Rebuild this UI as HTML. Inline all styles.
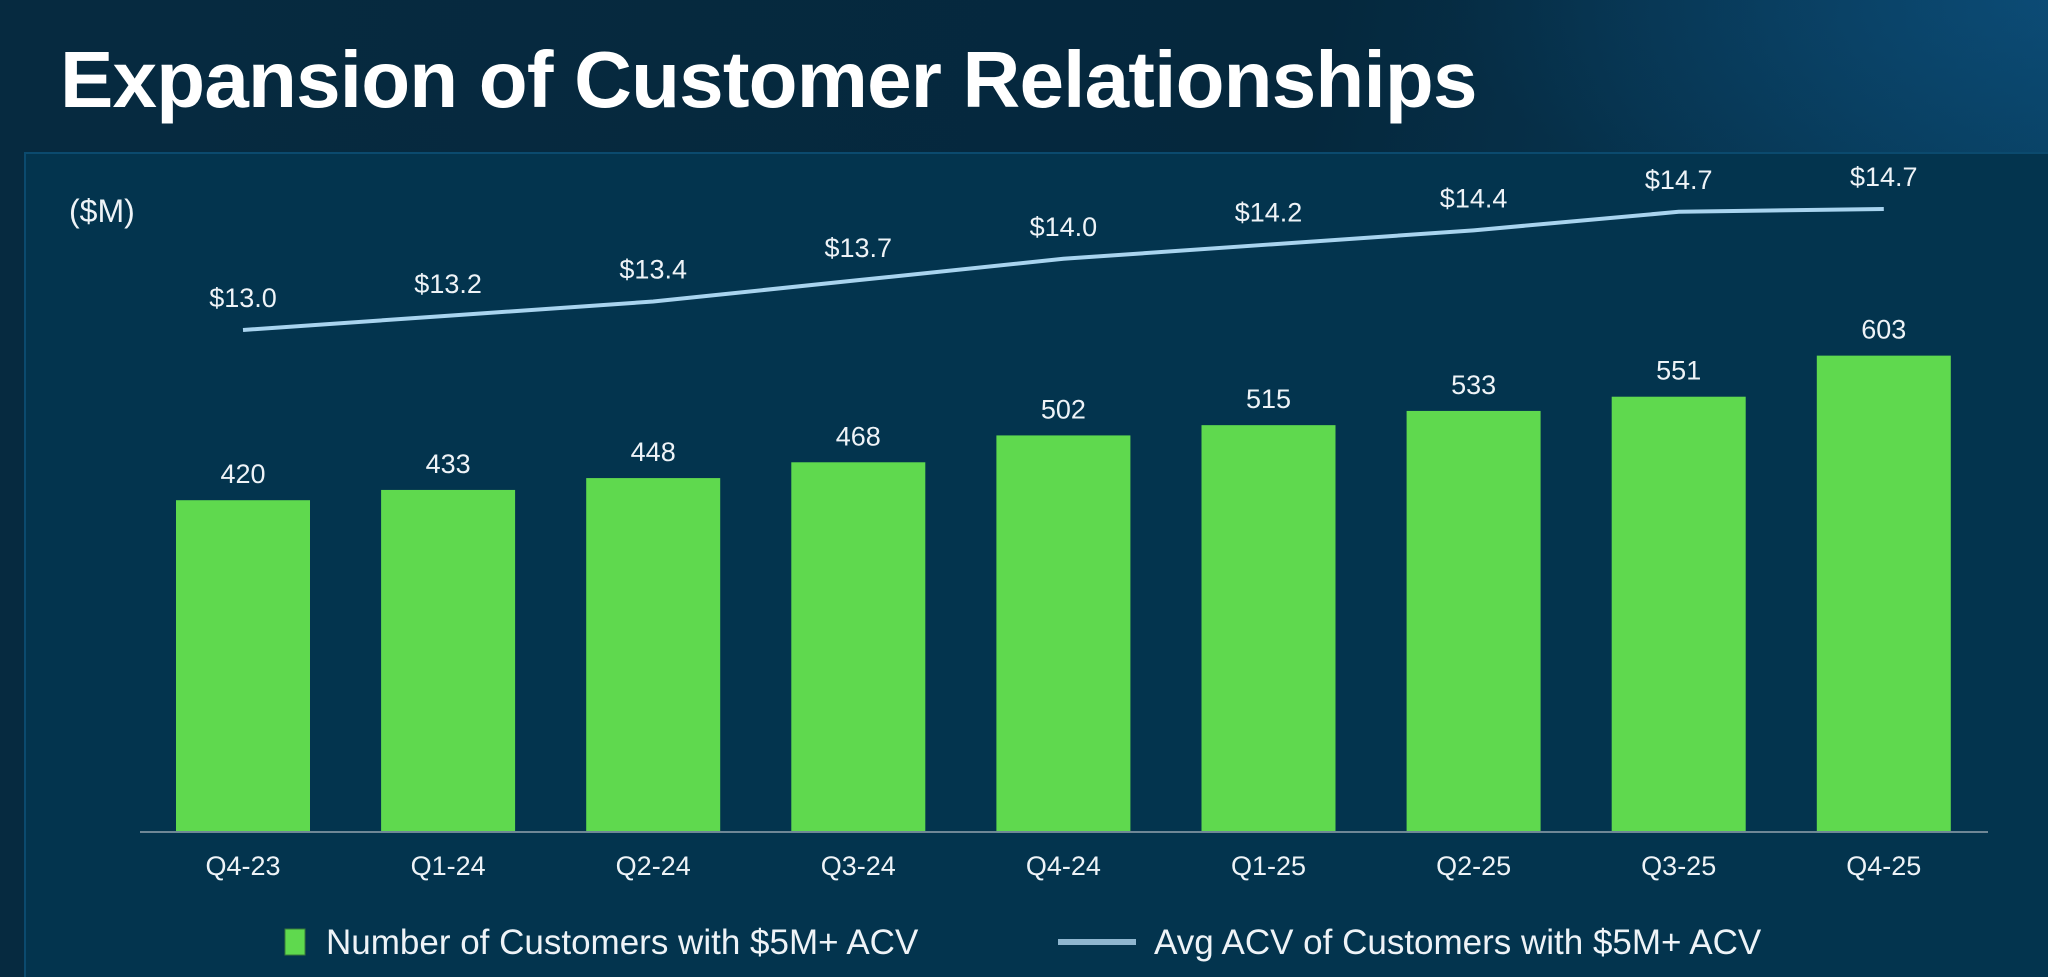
<!DOCTYPE html>
<html><head><meta charset="utf-8"><style>
html,body{margin:0;padding:0;}
body{width:2048px;height:977px;overflow:hidden;background:linear-gradient(100deg,#062a40 0%,#05283d 60%,#084366 100%);font-family:"Liberation Sans",sans-serif;position:relative;}
#glow{position:absolute;left:0;top:0;width:2048px;height:977px;background:radial-gradient(ellipse 600px 250px at 2048px 0px,rgba(20,100,160,0.35),rgba(0,0,0,0));}
#title{position:absolute;left:60px;top:34px;font-size:80px;font-weight:bold;color:#fff;letter-spacing:-0.8px;}
#panel{position:absolute;left:24px;top:152px;width:2024px;height:825px;background:#03344e;border-top:2px solid #0b4a6e;border-left:2px solid #0b4a6e;box-sizing:border-box;}
svg{position:absolute;left:0;top:0;}
</style></head><body>
<div id="glow"></div>
<div id="title">Expansion of Customer Relationships</div>
<div id="panel"></div>
<svg id="chart" width="2048" height="977"></svg>
<script>
const categories=["Q4-23","Q1-24","Q2-24","Q3-24","Q4-24","Q1-25","Q2-25","Q3-25","Q4-25"];
const customers=[420,433,448,468,502,515,533,551,603];
const avgAcv=[13.0,13.2,13.4,13.7,14.0,14.2,14.4,14.66,14.7];
const acvLabels=["$13.0","$13.2","$13.4","$13.7","$14.0","$14.2","$14.4","$14.7","$14.7"];
const NS="http://www.w3.org/2000/svg";
const svg=document.getElementById('chart');
const baseY=832, x0=243, step=205.1, barW=134;
const xPos=i=>x0+i*step;
const yBar=v=>baseY-v*0.79;
const yLine=v=>330-(v-13)*71.2;
function mk(tag,attrs,parent){const e=document.createElementNS(NS,tag);for(const k in attrs)e.setAttribute(k,attrs[k]);(parent||svg).appendChild(e);return e;}
function txt(s,x,y,size,anchor){const t=mk('text',{x:x,y:y,fill:'#eef3f7','font-size':size,'text-anchor':anchor||'middle','font-family':'Liberation Sans, sans-serif'});t.textContent=s;return t;}
const u=txt('($M)',69,222,32,'start');


categories.forEach((c,i)=>{
  const cx=xPos(i);
  const r=mk('rect',{x:cx-barW/2,y:yBar(customers[i]),width:barW,height:baseY-yBar(customers[i]),fill:'#5fd94e'});
  
  
  const bl=txt(String(customers[i]),cx,yBar(customers[i])-17,27);
  
  
  const xl=txt(c,cx,875,27);
  
  
  const ll=txt(acvLabels[i],cx,yLine(avgAcv[i])-23,27);
  
  
});
const ax=mk('line',{x1:140,y1:baseY,x2:1988,y2:baseY,stroke:'#6f8796','stroke-width':2});


const pl=mk('polyline',{points:avgAcv.map((v,i)=>xPos(i)+','+yLine(v)).join(' '),fill:'none',stroke:'#a9d4ef','stroke-width':4});


const lg=mk('g',{});


const ls=mk('rect',{x:285,y:929,width:20,height:26,fill:'#5fd94e',stroke:'#3a7a3a','stroke-width':1},lg);


const lt1=txt('Number of Customers with $5M+ ACV',326,954,35,'start');lg.appendChild(lt1);


const ll2=mk('line',{x1:1058,y1:942,x2:1136,y2:942,stroke:'#8fb6cf','stroke-width':6},lg);


const lt2=txt('Avg ACV of Customers with $5M+ ACV',1154,954,35,'start');lg.appendChild(lt2);


</script>
</body></html>
